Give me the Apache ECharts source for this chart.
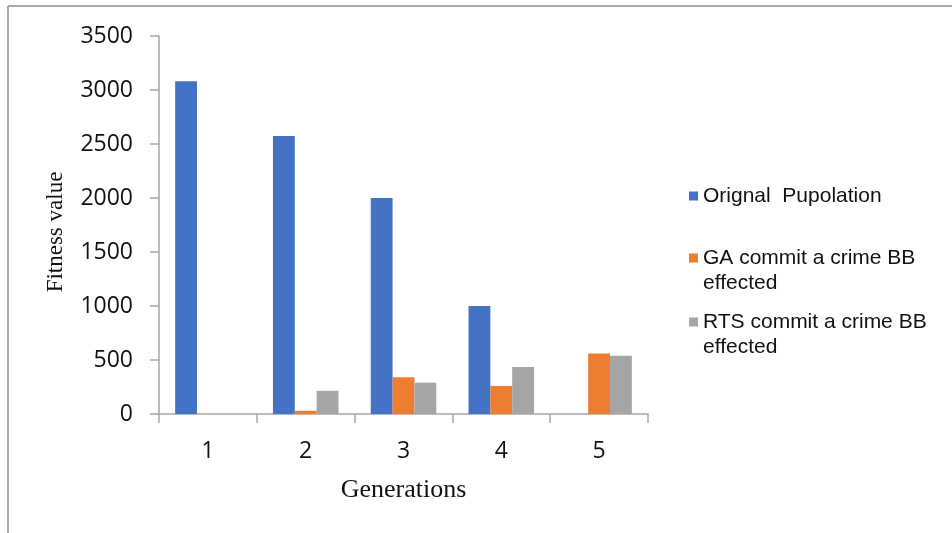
<!DOCTYPE html>
<html>
<head>
<meta charset="utf-8">
<script src="https://cdn.jsdelivr.net/npm/echarts@6/dist/echarts.min.js"></script>
<style>
  html, body { margin: 0; padding: 0; background: #fff; }
  #chart { width: 952px; height: 533px; }
</style>
</head>
<body>
<div id="chart"></div>
<script>
// Generations on the x axis
var generations = ['1', '2', '3', '4', '5'];
// Fitness values per series (null = no bar)
var originalPopulation = [3080, 2575, 2000, 1000, null];
var gaEffected = [null, 30, 340, 260, 560];
var rtsEffected = [null, 215, 290, 435, 540];
var seriesNames = ['Orignal  Pupolation', 'GA commit a crime BB effected', 'RTS commit a crime BB effected'];
var seriesColors = ['#4472C4', '#ED7D31', '#A5A5A5'];

var chart = echarts.init(document.getElementById('chart'), null, { renderer: 'canvas' });

var axisGray = '#a6a6a6';
var legendTops = [183.5, 220.5, 284.5];

// One legend block per series so each entry can sit at its own height;
// wrapped entries get a blank leading line so the swatch lines up with the first text line.
function legendFor(i) {
  var wrapped = i > 0;
  return {
    orient: 'vertical',
    left: 689,
    top: legendTops[i],
    padding: 0,
    itemWidth: 9,
    itemHeight: 9,
    itemGap: 0,
    icon: 'rect',
    selectedMode: false,
    formatter: function (name) { return wrapped ? '\n' + name : name; },
    textStyle: {
      fontFamily: 'Liberation Sans, Arial, sans-serif',
      fontSize: 21,
      color: '#111',
      width: 240,
      overflow: 'break',
      lineHeight: 25
    },
    data: [seriesNames[i]]
  };
}

var option = {
  animation: false,
  grid: { left: 159, right: 304, top: 36, bottom: 119, containLabel: false },
  legend: [legendFor(0), legendFor(1), legendFor(2)],
  xAxis: {
    type: 'category',
    data: generations,
    name: 'Generations',
    nameLocation: 'middle',
    nameGap: 63,
    nameTextStyle: { fontFamily: 'Liberation Serif, Times New Roman, serif', fontSize: 26, color: '#111' },
    axisLine: { lineStyle: { color: axisGray, width: 1.5 } },
    axisTick: { show: true, length: 9, lineStyle: { color: axisGray, width: 1.5 } },
    axisLabel: { fontFamily: 'Open Sans, Noto Sans, sans-serif', fontSize: 23, color: '#111', margin: 26 }
  },
  yAxis: {
    type: 'value',
    min: 0,
    max: 3500,
    interval: 500,
    name: 'Fitness value',
    nameLocation: 'middle',
    nameRotate: 90,
    nameGap: 92,
    nameTextStyle: { fontFamily: 'Liberation Serif, Times New Roman, serif', fontSize: 23, color: '#111', padding: [0, 14, 0, 0] },
    axisLine: { show: true, lineStyle: { color: axisGray, width: 1.5 } },
    axisTick: { show: true, length: 9, lineStyle: { color: axisGray, width: 1.5 } },
    splitLine: { show: false },
    axisLabel: {
      fontFamily: 'Open Sans, Noto Sans, sans-serif', fontSize: 23, color: '#111', margin: 26,
      formatter: function (v) { return String(v); }
    }
  },
  series: [
    { name: seriesNames[0], type: 'bar', data: originalPopulation, itemStyle: { color: seriesColors[0] }, barGap: '0%', barCategoryGap: '33%' },
    { name: seriesNames[1], type: 'bar', data: gaEffected, itemStyle: { color: seriesColors[1] } },
    { name: seriesNames[2], type: 'bar', data: rtsEffected, itemStyle: { color: seriesColors[2] } }
  ],
  graphic: [
    { type: 'line', shape: { x1: 8, y1: 6, x2: 952, y2: 6 }, style: { stroke: '#a8a8a8', lineWidth: 2 } },
    { type: 'line', shape: { x1: 8, y1: 6, x2: 8, y2: 533 }, style: { stroke: '#a8a8a8', lineWidth: 2 } }
  ]
};

chart.setOption(option);
</script>
</body>
</html>
